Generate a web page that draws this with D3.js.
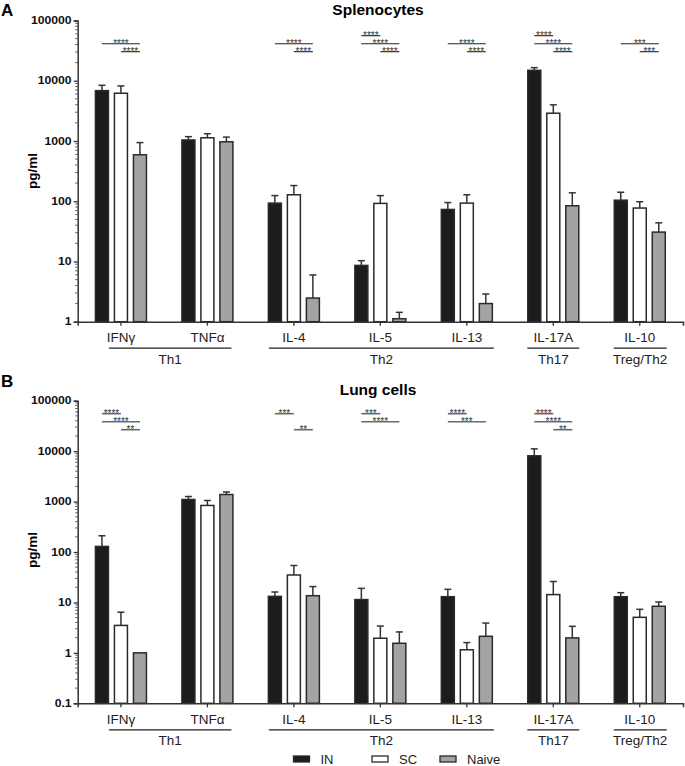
<!DOCTYPE html>
<html>
<head>
<meta charset="utf-8">
<script src="https://cdn.jsdelivr.net/npm/d3@7"></script>
<style>
body { margin: 0; background: #fff; }
svg { display: block; font-family: "Liberation Sans", Arial, sans-serif; }
</style>
</head>
<body>
<svg id="chart" width="685" height="766"></svg>
<script>
// categories and groups
let cytokines = ["IFNγ", "TNFα", "IL-4", "IL-5", "IL-13", "IL-17A", "IL-10"];
let series = ["IN", "SC", "Naive"];
let groups = [["Th1", "IFNγ", "TNFα"], ["Th2", "IL-4", "IL-13"], ["Th17", "IL-17A", "IL-17A"], ["Treg/Th2", "IL-10", "IL-10"]];

// A: splenocytes (mean, sem) pg/ml
let spleenIN = [6850, 1040, 93, 8.6, 73, 14900, 104];
let spleenINsem = [1550, 140, 31, 1.7, 22, 1600, 37];
let spleenSC = [6200, 1130, 128, 92, 93, 2890, 77];
let spleenSCsem = [2000, 190, 54, 32, 35, 1090, 21];
let spleenNaive = [590, 970, 2.47, 1.12, 2.0, 84, 30.7];
let spleenNaivesem = [350, 190, 3.5, 0.31, 0.88, 54, 13.1];

// B: lung cells
let lungIN = [129, 1100, 13.2, 11.4, 13, 8070, 13];
let lungINsem = [81, 160, 2.9, 7.6, 5.2, 3030, 2.6];
let lungSC = [3.5, 837, 35, 1.95, 1.15, 14.3, 5.07];
let lungSCsem = [2.9, 213, 19, 1.45, 0.45, 11.7, 2.23];
let lungNaive = [1.0, 1380, 13.6, 1.55, 2.13, 1.98, 8.4];
let lungNaivesem = [0, 170, 7, 1.05, 1.77, 1.38, 1.8];

// significance: cytokine, comparison, stars
let spleenSig = [
	["IFNγ", "IN-Naive", "****"], ["IFNγ", "SC-Naive", "****"],
	["IL-4", "IN-Naive", "****"], ["IL-4", "SC-Naive", "****"],
	["IL-5", "IN-SC", "****"], ["IL-5", "IN-Naive", "****"], ["IL-5", "SC-Naive", "****"],
	["IL-13", "IN-Naive", "****"], ["IL-13", "SC-Naive", "****"],
	["IL-17A", "IN-SC", "****"], ["IL-17A", "IN-Naive", "****"], ["IL-17A", "SC-Naive", "****"],
	["IL-10", "IN-Naive", "***"], ["IL-10", "SC-Naive", "***"]
];
let lungSig = [
	["IFNγ", "IN-SC", "****"], ["IFNγ", "IN-Naive", "****"], ["IFNγ", "SC-Naive", "**"],
	["IL-4", "IN-SC", "***"], ["IL-4", "SC-Naive", "**"],
	["IL-5", "IN-SC", "***"], ["IL-5", "IN-Naive", "****"],
	["IL-13", "IN-SC", "****"], ["IL-13", "IN-Naive", "***"],
	["IL-17A", "IN-SC", "****"], ["IL-17A", "IN-Naive", "****"], ["IL-17A", "SC-Naive", "**"]
];

let colors = {"IN": "#1c1c1c", "SC": "#ffffff", "Naive": "#a3a3a3"};
let pair_level = {"IN-SC": 0, "IN-Naive": 1, "SC-Naive": 2};
// group underline padding left/right of the band centre
let group_pad = {"Th1": [12, 24], "Th2": [25, 27], "Th17": [26, 26], "Treg/Th2": [26, 27]};

let svg = d3.select("#chart");
let x = d3.scaleBand().domain(cytokines).range([77.7, 683]);
let sub = d3.scalePoint().domain(series).range([-19, 19]);
let bar_w = 13;

let panels = [
	{letter: "A", title: "Splenocytes", top: 20.5, bottom: 321.7, domain: [1, 1e5],
		means: [spleenIN, spleenSC, spleenNaive], sems: [spleenINsem, spleenSCsem, spleenNaivesem],
		sig: spleenSig, sig_off: 15.2, sig_color: "#222", sig_w: 1.1, letter_y: 16, title_y: 15, ylab_y: 171},
	{letter: "B", title: "Lung cells", top: 400.7, bottom: 703.3, domain: [0.1, 1e5],
		means: [lungIN, lungSC, lungNaive], sems: [lungINsem, lungSCsem, lungNaivesem],
		sig: lungSig, sig_off: 13, sig_color: "#6a6a6a", sig_w: 1.6, letter_y: 387, title_y: 395, ylab_y: 550}
];

panels.forEach(draw_panel);
draw_legend();

function cx(c) {
	return x(c) + x.bandwidth() / 2;
}

function draw_panel(p) {
	let g = svg.append("g");
	let y = d3.scaleLog().domain(p.domain).range([p.bottom, p.top]);

	g.append("text").attr("x", 1).attr("y", p.letter_y).text(p.letter)
		.style("font-weight", "bold").style("font-size", "17px");
	g.append("text").attr("x", 378).attr("y", p.title_y).text(p.title)
		.attr("text-anchor", "middle").style("font-weight", "bold").style("font-size", "15.5px");
	g.append("text").attr("transform", "translate(37," + p.ylab_y + ") rotate(-90)")
		.attr("text-anchor", "middle").text("pg/ml")
		.style("font-weight", "bold").style("font-size", "13.5px");

	// bars
	series.forEach(function (s, si) {
		let vals = p.means[si], errs = p.sems[si];
		let sg = g.append("g");
		cytokines.forEach(function (c, ci) {
			let v = vals[ci], e = errs[ci];
			let bx = cx(c) + sub(s);
			if (e > 0) {
				sg.append("line").attr("x1", bx).attr("x2", bx)
					.attr("y1", y(v)).attr("y2", y(v + e))
					.attr("stroke", "#333").attr("stroke-width", 1.5);
				sg.append("line").attr("x1", bx - 3.5).attr("x2", bx + 3.5)
					.attr("y1", y(v + e)).attr("y2", y(v + e))
					.attr("stroke", "#333").attr("stroke-width", 1.5);
			}
			sg.append("rect").attr("x", bx - bar_w / 2).attr("y", y(v))
				.attr("width", bar_w).attr("height", p.bottom - y(v))
				.attr("fill", colors[s]).attr("stroke", "#2a2a2a").attr("stroke-width", 1.5);
		});
	});

	// y axis
	let decades = [];
	for (let d = p.domain[0]; d <= p.domain[1] * 1.01; d *= 10) decades.push(d);
	let minor = [];
	decades.forEach(function (d) {
		for (let k = 2; k < 10; k++) if (k * d < p.domain[1]) minor.push(k * d);
	});
	let ax = g.append("g").attr("transform", "translate(77.7,0)")
		.call(d3.axisLeft(y).tickValues(decades).tickSize(4).tickPadding(1)
			.tickFormat(function (d) { return d < 1 ? d3.format(".1f")(d) : d3.format("d")(d); }));
	ax.select(".domain").attr("stroke", "#333").attr("stroke-width", 1.5);
	ax.selectAll(".tick line").attr("stroke", "#333").attr("stroke-width", 1.3);
	ax.selectAll(".tick text").attr("transform", "scale(1.22,1)")
		.style("font-weight", "bold").style("font-size", "10px").attr("fill", "#111");
	ax.selectAll(".minor").data(minor).enter().append("line").attr("class", "minor")
		.attr("x1", -2.5).attr("x2", 0).attr("y1", y).attr("y2", y)
		.attr("stroke", "#333").attr("stroke-width", 0.8);

	// x axis
	let xa = g.append("g").attr("transform", "translate(0," + p.bottom + ")")
		.call(d3.axisBottom(x).tickSize(4).tickPadding(7));
	xa.select(".domain").attr("stroke", "#333").attr("stroke-width", 1.5);
	xa.selectAll(".tick line").attr("stroke", "#333").attr("stroke-width", 1.3);
	xa.selectAll(".tick text").style("font-size", "13.5px").attr("fill", "#222");

	// groups
	groups.forEach(function (gr) {
		let pad = group_pad[gr[0]];
		let x1 = cx(gr[1]) - pad[0], x2 = cx(gr[2]) + pad[1];
		g.append("line").attr("x1", x1).attr("x2", x2)
			.attr("y1", p.bottom + 26.5).attr("y2", p.bottom + 26.5)
			.attr("stroke", "#222").attr("stroke-width", 1.3);
		g.append("text").attr("x", (x1 + x2) / 2).attr("y", p.bottom + 42)
			.attr("text-anchor", "middle").text(gr[0])
			.style("font-size", "13.5px").attr("fill", "#222");
	});

	// significance bars
	p.sig.forEach(function (s) {
		let ends = s[1].split("-");
		let x1 = cx(s[0]) + sub(ends[0]), x2 = cx(s[0]) + sub(ends[1]);
		let ly = p.top + p.sig_off + 8 * pair_level[s[1]];
		g.append("line").attr("x1", x1).attr("x2", x2).attr("y1", ly).attr("y2", ly)
			.attr("stroke", p.sig_color).attr("stroke-width", p.sig_w);
		g.append("text").attr("x", (x1 + x2) / 2).attr("y", ly + 2.8)
			.attr("text-anchor", "middle").text(s[2])
			.style("font-size", "10px").attr("fill", "#333");
	});
}

function draw_legend() {
	let lx = d3.scaleOrdinal().domain(series).range([293.5, 372, 440]);
	let lg = svg.append("g").selectAll("g").data(series).enter().append("g")
		.attr("transform", function (d) { return "translate(" + lx(d) + ",756)"; });
	lg.append("rect").attr("width", 16).attr("height", 6)
		.attr("fill", function (d) { return colors[d]; })
		.attr("stroke", "#2a2a2a").attr("stroke-width", 1.3);
	lg.append("text").attr("x", 27).attr("y", 7.5).text(function (d) { return d; })
		.style("font-size", "13px").attr("fill", "#222");
}
</script>
</body>
</html>
